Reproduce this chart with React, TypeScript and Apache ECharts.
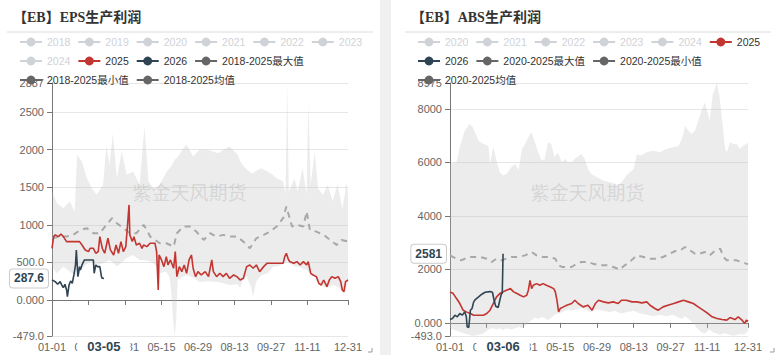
import React, { useEffect, useRef } from 'react';
import * as echarts from 'echarts';

// ---- categories: calendar days of a leap year ----
const MONTH_DAYS = [31, 29, 31, 30, 31, 30, 31, 31, 30, 31, 30, 31];
const CATEGORIES: string[] = [];
MONTH_DAYS.forEach((n, m) => {
  for (let d = 1; d <= n; d++) CATEGORIES.push(`${String(m + 1).padStart(2, '0')}-${String(d).padStart(2, '0')}`);
});

// ---- EPS (left) ----
const EPS_HIDDEN_YEARS = ['2018', '2019', '2020', '2021', '2022', '2023', '2024'];
const EPS_Y_MIN = -479;
const EPS_Y_MAX = 2887;
const EPS_BAND_DAYS = [0, 6, 14, 22, 28, 31, 37, 43, 49, 55, 63, 67, 71, 75, 80, 86, 92, 100, 108, 114, 119, 126, 129, 131, 133, 137, 141, 145, 147, 149, 151, 153, 155, 162, 166, 174, 182, 192, 205, 211, 219, 229, 232, 235, 240, 246, 248, 252, 258, 266, 273, 277, 285, 288, 290, 292, 299, 303, 309, 314, 316, 319, 324, 328, 334, 340, 346, 352, 358, 361, 363, 365];
const EPS_MAX = [1443, 1288, 1221, 1310, 1177, 1931, 1843, 1620, 1487, 1399, 1532, 2042, 1798, 2220, 1620, 1976, 1665, 1709, 1532, 2309, 1576, 1480, 1443, 1500, 1540, 1620, 1700, 1754, 1780, 1820, 1860, 1887, 1900, 2020, 2065, 1909, 1998, 1998, 1954, 2000, 2042, 1931, 1850, 1798, 1740, 1687, 1690, 1720, 1754, 1709, 1660, 1620, 1576, 1399, 2887, 1443, 1620, 1443, 1754, 1399, 2620, 1532, 1976, 1487, 1399, 1532, 1310, 1532, 1221, 1400, 1576, 1399];
const EPS_MIN = [444, 355, 444, 377, 330, 311, 420, 480, 511, 466, 488, 510, 533, 500, 444, 500, 560, 600, 530, 533, 520, 480, 444, 133, 355, 370, 377, 300, 100, -200, -479, -300, 266, 311, 330, 300, 240, 250, 240, 222, 200, 210, 155, 266, 311, 150, 44, 250, 330, 355, 444, 444, 480, 500, 511, 500, 444, 444, 420, 400, 380, 340, 311, 220, 178, 160, 200, 180, 120, 89, 150, 244];
const EPS_AVG: [number, number][] = [[0, 821], [10, 844], [18, 844], [26, 866], [35, 932], [43, 955], [51, 888], [59, 888], [67, 999], [74, 1088], [80, 1021], [88, 955], [96, 888], [104, 888], [113, 999], [117, 932], [121, 844], [127, 799], [133, 755], [141, 755], [150, 710], [154, 888], [162, 977], [170, 977], [178, 910], [187, 799], [195, 888], [203, 844], [211, 866], [220, 844], [228, 844], [236, 777], [244, 688], [252, 821], [261, 866], [269, 910], [277, 977], [285, 1088], [289, 1243], [296, 977], [302, 999], [310, 977], [314, 1177], [318, 932], [326, 910], [335, 866], [343, 799], [351, 732], [357, 799], [365, 777]];
const EPS_2025: [number, number][] = [[0, 688], [2, 843], [4, 866], [8, 843], [11, 879], [14, 843], [18, 777], [34, 777], [37, 732], [41, 666], [45, 644], [47, 688], [51, 688], [54, 622], [57, 644], [59, 843], [62, 688], [65, 622], [69, 821], [72, 666], [76, 599], [79, 732], [82, 622], [85, 777], [88, 644], [91, 710], [93, 977], [95, 1265], [96, 866], [99, 777], [101, 843], [104, 732], [108, 755], [111, 688], [113, 732], [117, 710], [121, 755], [127, 755], [129, 644], [131, 133], [132, 599], [135, 533], [138, 444], [141, 577], [143, 466], [146, 533], [150, 422], [152, 644], [154, 311], [157, 444], [160, 377], [163, 466], [166, 355], [169, 533], [172, 599], [174, 422], [177, 311], [180, 377], [184, 333], [189, 377], [193, 311], [197, 533], [199, 377], [203, 311], [207, 355], [211, 311], [215, 355], [219, 289], [224, 333], [228, 311], [232, 266], [236, 289], [240, 444], [244, 466], [248, 422], [252, 466], [256, 377], [261, 444], [265, 488], [285, 488], [287, 577], [289, 622], [291, 555], [293, 511], [298, 488], [302, 511], [306, 466], [310, 511], [314, 466], [316, 511], [319, 355], [322, 333], [326, 311], [329, 222], [332, 200], [335, 266], [339, 178], [342, 266], [345, 311], [349, 289], [353, 311], [356, 244], [358, 133], [360, 111], [362, 244], [365, 266]];
const EPS_2026: [number, number][] = [[0, 266], [4, 244], [7, 209], [10, 244], [12, 200], [14, 164], [16, 209], [18, 133], [19, 44], [21, 200], [23, 253], [25, 222], [27, 333], [29, 466], [30, 666], [32, 311], [34, 444], [35, 400], [37, 466], [40, 533], [51, 533], [52, 355], [54, 466], [56, 444], [59, 444], [61, 311], [62, 289], [64, 287.6]];

// ---- ABS (right) ----
const ABS_HIDDEN_YEARS = ['2020', '2021', '2022', '2023', '2024'];
const ABS_Y_MIN = -493;
const ABS_Y_MAX = 8975;
const ABS_BAND_DAYS = [0, 8, 12, 18, 24, 28, 35, 41, 47, 49, 53, 57, 61, 65, 69, 75, 80, 84, 88, 92, 96, 100, 104, 108, 112, 116, 120, 124, 128, 132, 137, 141, 145, 149, 155, 161, 165, 169, 173, 180, 188, 196, 202, 206, 210, 216, 225, 229, 233, 241, 249, 257, 265, 273, 280, 284, 288, 292, 296, 300, 304, 308, 312, 316, 318, 322, 327, 330, 333, 337, 339, 343, 347, 351, 355, 359, 363, 365];
const ABS_MAX = [5946, 6009, 6568, 7190, 7439, 7315, 6817, 6693, 6631, 5946, 6568, 6071, 5635, 5511, 5573, 5822, 5946, 5698, 6506, 6693, 6941, 7128, 6755, 6382, 6071, 6133, 6755, 6693, 6195, 6382, 6009, 6133, 6009, 6009, 6195, 6320, 6133, 5760, 5573, 5449, 5324, 5262, 5200, 5138, 5262, 5511, 5760, 6320, 6257, 6382, 6444, 6382, 6506, 6568, 6631, 6879, 7377, 7190, 7066, 7190, 7564, 7937, 8248, 7812, 7564, 8559, 8975, 8497, 7688, 6506, 6382, 6755, 6693, 6693, 6506, 6631, 6693, 6755];
const ABS_MIN = [-200, -300, -330, -400, -460, -493, -450, -400, -250, -220, -200, -250, -200, -270, -200, -250, -200, -150, -200, -100, 0, 100, 200, 150, 220, 180, 100, 200, 300, 350, 400, 450, 500, 450, 500, 545, 500, 450, 400, 500, 450, 400, 450, 400, 350, 400, 450, 400, 350, 300, 250, 300, 250, 300, 200, 150, 250, 150, 50, -100, -250, -350, -400, -300, -250, -350, -400, -450, -420, -380, -420, -450, -480, -460, -420, -440, -380, -300];
const ABS_AVG: [number, number][] = [[0, 2525], [8, 2401], [14, 2339], [22, 2463], [29, 2463], [37, 2463], [45, 2401], [51, 2277], [57, 2401], [63, 2339], [69, 2401], [75, 2463], [84, 2463], [92, 2525], [100, 2650], [106, 2525], [114, 2463], [122, 2463], [129, 2401], [133, 2152], [137, 2090], [143, 2090], [149, 2090], [155, 2214], [161, 2277], [169, 2277], [175, 2214], [184, 2152], [192, 2152], [200, 2090], [208, 1990], [214, 2152], [220, 2277], [229, 2525], [237, 2463], [245, 2401], [253, 2401], [261, 2463], [269, 2588], [276, 2687], [282, 2712], [288, 2836], [294, 2712], [300, 2588], [306, 2588], [312, 2650], [318, 2525], [325, 2712], [331, 2774], [335, 2463], [339, 2339], [345, 2339], [351, 2339], [357, 2277], [363, 2214], [365, 2200]];
const ABS_2025: [number, number][] = [[0, 1157], [4, 1095], [8, 908], [12, 722], [16, 473], [20, 410], [25, 348], [29, 286], [41, 286], [45, 348], [49, 473], [53, 722], [57, 970], [61, 1095], [65, 1157], [69, 1219], [74, 1281], [78, 1157], [82, 1095], [86, 1032], [90, 970], [94, 1032], [96, 1219], [98, 1592], [100, 1281], [102, 1406], [106, 1468], [110, 1406], [114, 1468], [118, 1406], [123, 1343], [127, 1281], [129, 1157], [131, 846], [133, 410], [135, 535], [139, 597], [143, 659], [149, 722], [153, 846], [157, 722], [163, 597], [169, 659], [174, 473], [178, 722], [182, 846], [188, 784], [194, 746], [200, 784], [206, 722], [210, 846], [216, 846], [223, 784], [229, 784], [235, 746], [241, 784], [245, 659], [251, 535], [255, 473], [261, 597], [267, 659], [274, 722], [280, 784], [286, 846], [292, 784], [298, 722], [304, 597], [310, 473], [316, 348], [321, 224], [327, 162], [333, 124], [339, 100], [343, 199], [349, 124], [353, 224], [357, 124], [361, -25], [363, 100], [365, 60]];
const ABS_2026: [number, number][] = [[0, 124], [3, 162], [6, 286], [9, 224], [12, 348], [15, 286], [18, 410], [20, 224], [21, -150], [23, -174], [25, 473], [27, 535], [29, 784], [31, 871], [35, 970], [39, 1070], [43, 1144], [49, 1169], [52, 1144], [54, 846], [56, 622], [59, 572], [61, 846], [63, 1095], [64, 1095], [65, 2581]];

const SANS = "'Liberation Sans', 'Noto Sans CJK SC', sans-serif";
const SERIF = "'Liberation Serif', 'Noto Sans CJK SC', serif";
const RED = '#c23531';
const NAVY = '#2f4554';
const DARK_GREY = '#666666';

interface Cfg {
  title: string;
  hidden: string[];
  range: string;
  yMin: number;
  yMax: number;
  bandDays: number[];
  max: number[];
  min: number[];
  avg: [number, number][];
  cur: [number, number][];
  next: [number, number][];
  gridW: number;
  panelW: number;
}

function makeOption(c: Cfg): any {
  const gridTop = 83;
  const gridH = 253;
  const gridBottom = gridTop + gridH;
  const zeroY = gridTop + (c.yMax / (c.yMax - c.yMin)) * gridH;
  const maxName = `${c.range}最大值`;
  const minName = `${c.range}最小值`;
  const avgName = `${c.range}均值`;
  const last = c.next[c.next.length - 1];
  const showIdx = (i: number) => (i % 45 === 0 && i < 360) || i === CATEGORIES.length - 1;
  const greyLegend = (name: string) => ({
    name,
    itemStyle: { color: DARK_GREY, opacity: 1 },
    lineStyle: { color: DARK_GREY, width: 2, type: 'solid', opacity: 1 },
  });
  const selected: Record<string, boolean> = {};
  c.hidden.forEach((y) => (selected[y] = false));

  return {
    animation: false,
    textStyle: { fontFamily: SANS },
    title: {
      text: c.title,
      left: 20,
      top: 10,
      padding: 0,
      textStyle: { fontFamily: SERIF, fontWeight: 'bold', fontSize: 14, color: '#333' },
    },
    legend: {
      left: 26,
      top: 36,
      right: 10,
      padding: 0,
      itemWidth: 22,
      itemHeight: 11,
      itemGap: 7,
      textStyle: { fontSize: 10.5, lineHeight: 12, color: '#333', fontFamily: SANS },
      selected,
      data: [
        ...c.hidden.map((n) => ({ name: n })),
        { name: '2025' },
        { name: '2026' },
        greyLegend(maxName),
        greyLegend(minName),
        greyLegend(avgName),
      ],
    },
    grid: { left: 59, top: gridTop, width: c.gridW, height: gridH, containLabel: false, outerBoundsMode: 'none' },
    xAxis: {
      type: 'category',
      data: CATEGORIES,
      boundaryGap: false,
      axisLine: { onZero: true, lineStyle: { color: '#777' } },
      axisTick: { interval: showIdx, lineStyle: { color: '#777' } },
      axisLabel: { interval: showIdx, margin: 341.5 - gridBottom, color: '#666', fontSize: 11 },
      splitLine: { show: false },
      axisPointer: {
        show: true,
        status: 'show',
        value: last[0],
        triggerTooltip: false,
        lineStyle: { opacity: 0, width: 0 },
        label: {
          show: true,
          margin: 339 - zeroY,
          backgroundColor: '#fff',
          color: NAVY,
          fontWeight: 'bold',
          fontSize: 13,
          padding: [2, 10],
          fontFamily: SANS,
        },
      },
    },
    yAxis: {
      type: 'value',
      min: c.yMin,
      max: c.yMax,
      axisLine: { show: true, lineStyle: { color: '#777' } },
      axisTick: { show: true, lineStyle: { color: '#777' } },
      axisLabel: { color: '#666', fontSize: 11, formatter: (v: number) => Number(v).toPrecision(4) },
      splitLine: { lineStyle: { color: '#e6e6e6' } },
      axisPointer: {
        show: true,
        status: 'show',
        value: last[1],
        triggerTooltip: false,
        lineStyle: { opacity: 0, width: 0 },
        label: {
          show: true,
          margin: 4,
          formatter: (p: any) => String(p.value),
          backgroundColor: '#fff',
          borderColor: '#ccc',
          borderWidth: 1,
          borderRadius: 3,
          color: NAVY,
          fontWeight: 'bold',
          fontSize: 12,
          padding: [3, 4],
          fontFamily: SANS,
        },
      },
    },
    graphic: [
      { type: 'line', silent: true, shape: { x1: 14, y1: 32, x2: 380, y2: 32 }, style: { stroke: '#dcdcdc', lineWidth: 1 } },
      {
        type: 'text',
        silent: true,
        z: 100,
        x: 196.5,
        y: 193,
        style: {
          text: '紫金天风期货',
          fontSize: 19,
          fontFamily: SANS,
          fill: 'rgba(120,120,120,0.2)',
          align: 'center',
          verticalAlign: 'middle',
        },
      },
      {
        type: 'polyline',
        silent: true,
        shape: { points: [[c.panelW - 8, 348], [c.panelW - 8, 352], [c.panelW - 12, 352]] },
        style: { stroke: '#999', lineWidth: 1, fill: 'none' },
      },
    ],
    series: [
      ...c.hidden.map((n) => ({ name: n, type: 'line', data: [], symbol: 'none', itemStyle: { color: '#ccc' } })),
      {
        name: minName,
        type: 'line',
        stack: 'band',
        stackStrategy: 'all',
        symbol: 'none',
        data: c.bandDays.map((d, i) => [d, c.min[i]]),
        lineStyle: { opacity: 0 },
        itemStyle: { color: DARK_GREY },
        silent: true,
      },
      {
        name: maxName,
        type: 'line',
        stack: 'band',
        stackStrategy: 'all',
        symbol: 'none',
        data: c.bandDays.map((d, i) => [d, c.max[i] - c.min[i]]),
        lineStyle: { opacity: 0 },
        itemStyle: { color: DARK_GREY },
        areaStyle: { color: 'rgba(185,185,185,0.4)' },
        silent: true,
      },
      {
        name: avgName,
        type: 'line',
        symbol: 'none',
        data: c.avg,
        itemStyle: { color: DARK_GREY },
        lineStyle: { color: '#a8a8a8', width: 2, type: [6, 5] },
      },
      {
        name: '2025',
        type: 'line',
        symbol: 'none',
        data: c.cur,
        itemStyle: { color: RED },
        lineStyle: { color: RED, width: 1.6 },
      },
      {
        name: '2026',
        type: 'line',
        symbol: 'none',
        data: c.next,
        itemStyle: { color: NAVY },
        lineStyle: { color: NAVY, width: 1.6 },
      },
    ],
  };
}

const LEFT_CFG: Cfg = {
  title: '【EB】EPS生产利润',
  hidden: EPS_HIDDEN_YEARS,
  range: '2018-2025',
  yMin: EPS_Y_MIN,
  yMax: EPS_Y_MAX,
  bandDays: EPS_BAND_DAYS,
  max: EPS_MAX,
  min: EPS_MIN,
  avg: EPS_AVG,
  cur: EPS_2025,
  next: EPS_2026,
  gridW: 296,
  panelW: 387,
};

const RIGHT_CFG: Cfg = {
  title: '【EB】ABS生产利润',
  hidden: ABS_HIDDEN_YEARS,
  range: '2020-2025',
  yMin: ABS_Y_MIN,
  yMax: ABS_Y_MAX,
  bandDays: ABS_BAND_DAYS,
  max: ABS_MAX,
  min: ABS_MIN,
  avg: ABS_AVG,
  cur: ABS_2025,
  next: ABS_2026,
  gridW: 298,
  panelW: 391,
};

function Panel({ cfg, left }: { cfg: Cfg; left: number }) {
  const ref = useRef<HTMLDivElement>(null);
  useEffect(() => {
    if (!ref.current) return;
    const chart = echarts.init(ref.current, null, { renderer: 'svg' });
    chart.setOption(makeOption(cfg));
    return () => chart.dispose();
  }, [cfg]);
  return (
    <div
      ref={ref}
      style={{ position: 'absolute', left, top: 0, width: cfg.panelW, height: 355, background: '#fff' }}
    />
  );
}

export default function App() {
  return (
    <div
      style={{
        position: 'fixed',
        left: 0,
        top: 0,
        width: 782,
        height: 355,
        overflow: 'hidden',
        background: '#f0f0f0',
      }}
    >
      <Panel cfg={LEFT_CFG} left={-7} />
      <Panel cfg={RIGHT_CFG} left={391} />
    </div>
  );
}
